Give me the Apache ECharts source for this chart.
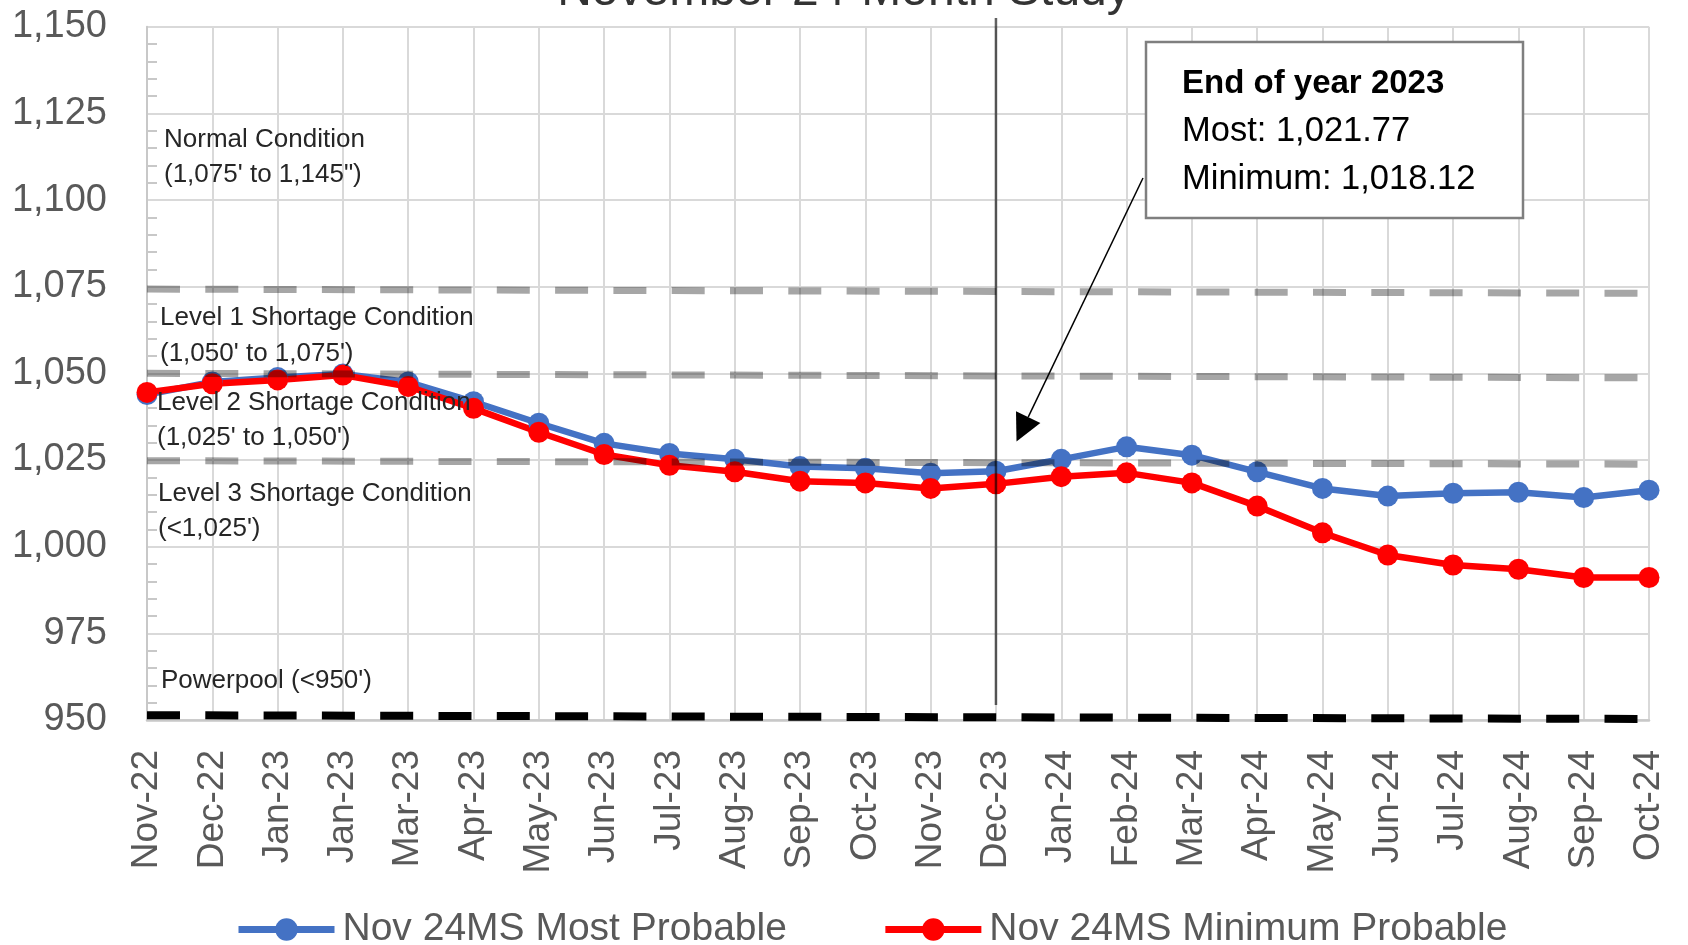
<!DOCTYPE html>
<html>
<head>
<meta charset="utf-8">
<script src="https://cdn.jsdelivr.net/npm/echarts@6/dist/echarts.min.js"></script>
<style>
  html, body { margin: 0; padding: 0; background: #ffffff; }
  #chart { width: 1688px; height: 945px; }
</style>
</head>
<body>
<div id="chart"></div>
<script>
// Month labels of the 24-Month Study run (the second January label is as published)
const months = ['Nov-22', 'Dec-22', 'Jan-23', 'Jan-23', 'Mar-23', 'Apr-23', 'May-23', 'Jun-23',
  'Jul-23', 'Aug-23', 'Sep-23', 'Oct-23', 'Nov-23', 'Dec-23', 'Jan-24', 'Feb-24',
  'Mar-24', 'Apr-24', 'May-24', 'Jun-24', 'Jul-24', 'Aug-24', 'Sep-24', 'Oct-24'];

// End-of-month elevations (feet)
const mostProbable = [1043.9, 1047.5, 1048.8, 1049.8, 1047.5, 1041.8, 1035.6, 1029.8,
  1026.9, 1025.2, 1023.1, 1022.6, 1021.2, 1021.77, 1025.2, 1028.8,
  1026.4, 1021.6, 1016.8, 1014.6, 1015.4, 1015.7, 1014.2, 1016.3];
const minProbable = [1044.5, 1047.0, 1048.1, 1049.5, 1046.2, 1039.9, 1033.0, 1026.6,
  1023.5, 1021.6, 1018.9, 1018.4, 1016.8, 1018.12, 1020.2, 1021.3,
  1018.4, 1011.7, 1004.0, 997.6, 994.7, 993.5, 991.1, 991.1];

const seriesNames = ['Nov 24MS Most Probable', 'Nov 24MS Minimum Probable'];

// Elevation axis ticks
const yTicks = [950, 975, 1000, 1025, 1050, 1075, 1100, 1125, 1150];

// Condition threshold lines: [elevation at first month, elevation at last month]
const level1Line = [1074.3, 1073.1];
const level2Line = [1050.0, 1048.7];
const level3Line = [1024.8, 1023.8];
const powerpoolLine = [951.4, 950.3];

// End-of-2023 divider at Dec-23: [bottom, top]
const yearEndIndex = 13;
const yearEndLine = [954.3, 1152.5];

const FONT = '"Liberation Sans", Arial, sans-serif';
const fmt = v => v.toLocaleString('en-US', { minimumFractionDigits: 2, maximumFractionDigits: 2 });

function thresholdSeries(vals, color, width) {
  return {
    type: 'line',
    data: [[0, vals[0]], [months.length - 1, vals[1]]],
    symbol: 'none',
    silent: true,
    clip: false,
    z: 3,
    lineStyle: { color: color, width: width, type: [33, 25.3], cap: 'butt' }
  };
}

const chart = echarts.init(document.getElementById('chart'), null, { renderer: 'canvas' });

// Condition labels written inside the plot, left side
const conditionText = [
  { x: 164, y: [140, 175], lines: ['Normal Condition', '(1,075\' to 1,145")'] },
  { x: 160, y: [318, 354], lines: ['Level 1 Shortage Condition', '(1,050\' to 1,075\')'] },
  { x: 157, y: [403, 438], lines: ['Level 2 Shortage Condition', '(1,025\' to 1,050\')'] },
  { x: 158, y: [494, 529], lines: ['Level 3 Shortage Condition', '(<1,025\')'] },
  { x: 161, y: [681], lines: ['Powerpool (<950\')'] }
];

const graphics = [];
conditionText.forEach(c => {
  c.lines.forEach((t, i) => {
    graphics.push({
      type: 'text', x: c.x, y: c.y[i], z: 20, silent: true,
      style: { text: t, fontSize: 26, fontFamily: FONT, fill: '#262626', verticalAlign: 'middle' }
    });
  });
});

// Call-out box with the end-of-2023 values
const box = { x: 1146, y: 42, w: 377, h: 176 };
const noteLines = [
  { text: 'End of year 2023', bold: true, size: 33 },
  { text: 'Most: ' + fmt(mostProbable[yearEndIndex]), size: 34.5 },
  { text: 'Minimum: ' + fmt(minProbable[yearEndIndex]), size: 34.5 }
];
graphics.push({
  type: 'rect', z: 30, silent: true,
  shape: { x: box.x, y: box.y, width: box.w, height: box.h },
  style: { fill: '#ffffff', stroke: '#7f7f7f', lineWidth: 2.5 }
});
[84, 131, 179].forEach((yy, i) => {
  graphics.push({
    type: 'text', x: 1182, y: yy, z: 31, silent: true,
    style: {
      text: noteLines[i].text, fontSize: noteLines[i].size, fontFamily: FONT,
      fontWeight: noteLines[i].bold ? 'bold' : 'normal',
      fill: '#000000', verticalAlign: 'middle'
    }
  });
});

// Arrow from the call-out down to the Dec-23 divider
const arrowStart = [1143, 178];
const arrowTip = [1016.5, 441.5];
const headLen = 27, headHalf = 13.5;
const dx = arrowStart[0] - arrowTip[0], dy = arrowStart[1] - arrowTip[1];
const len = Math.hypot(dx, dy);
const ux = dx / len, uy = dy / len;
const bx = arrowTip[0] + ux * headLen, by = arrowTip[1] + uy * headLen;
graphics.push({
  type: 'line', z: 30, silent: true,
  shape: { x1: arrowStart[0], y1: arrowStart[1], x2: bx, y2: by },
  style: { stroke: '#000000', lineWidth: 1.5 }
});
graphics.push({
  type: 'polygon', z: 30, silent: true,
  shape: { points: [arrowTip, [bx - uy * headHalf, by + ux * headHalf], [bx + uy * headHalf, by - ux * headHalf]] },
  style: { fill: '#000000' }
});

const option = {
  animation: false,
  backgroundColor: '#ffffff',
  title: {
    text: 'November 24-Month Study',
    left: 'center',
    top: -37,
    textStyle: { fontSize: 48, fontWeight: 'normal', color: '#333333', fontFamily: FONT }
  },
  legend: {
    data: seriesNames,
    left: 230,
    top: 905,
    itemWidth: 96,
    itemHeight: 28,
    itemGap: 95,
    lineStyle: { width: 7 },
    textStyle: { fontSize: 39, color: '#595959', fontFamily: FONT, padding: [0, 0, 0, 3] }
  },
  grid: {
    left: 147, right: 39, top: 26.7, bottom: 225,
    outerBoundsMode: 'none',
    containLabel: false
  },
  xAxis: {
    type: 'category',
    data: months,
    boundaryGap: false,
    axisLine: { show: true, lineStyle: { color: '#c8c8c8', width: 2.5 } },
    axisTick: { show: false },
    axisLabel: {
      interval: 0, rotate: 90, margin: 30,
      fontSize: 37, color: '#595959', fontFamily: FONT
    },
    splitLine: { show: true, lineStyle: { color: '#d9d9d9', width: 2 } }
  },
  yAxis: {
    type: 'value',
    min: yTicks[0],
    max: yTicks[yTicks.length - 1],
    interval: yTicks[1] - yTicks[0],
    axisLine: { show: true, lineStyle: { color: '#c8c8c8', width: 2 } },
    axisTick: { show: false, inside: true },
    minorTick: { show: true, splitNumber: 5, length: 10, lineStyle: { color: '#c8c8c8', width: 2 } },
    axisLabel: {
      margin: 40, fontSize: 38, color: '#595959', fontFamily: FONT,
      formatter: v => v.toLocaleString('en-US')
    },
    splitLine: { show: true, lineStyle: { color: '#d9d9d9', width: 2 } }
  },
  series: [
    {
      name: seriesNames[0],
      type: 'line',
      data: mostProbable,
      symbol: 'circle',
      symbolSize: 21,
      lineStyle: { color: '#4472C4', width: 6.5 },
      itemStyle: { color: '#4472C4' },
      z: 2
    },
    {
      name: seriesNames[1],
      type: 'line',
      data: minProbable,
      symbol: 'circle',
      symbolSize: 21,
      lineStyle: { color: '#FF0000', width: 6.5 },
      itemStyle: { color: '#FF0000' },
      z: 2
    },
    thresholdSeries(level1Line, 'rgba(0,0,0,0.35)', 7),
    thresholdSeries(level2Line, 'rgba(0,0,0,0.35)', 7),
    thresholdSeries(level3Line, 'rgba(0,0,0,0.35)', 7),
    thresholdSeries(powerpoolLine, '#000000', 8),
    {
      type: 'line',
      data: [[yearEndIndex, yearEndLine[0]], [yearEndIndex, yearEndLine[1]]],
      symbol: 'none',
      silent: true,
      clip: false,
      z: 3,
      lineStyle: { color: 'rgba(0,0,0,0.62)', width: 2.5 }
    }
  ],
  graphic: graphics
};

chart.setOption(option);
</script>
</body>
</html>
